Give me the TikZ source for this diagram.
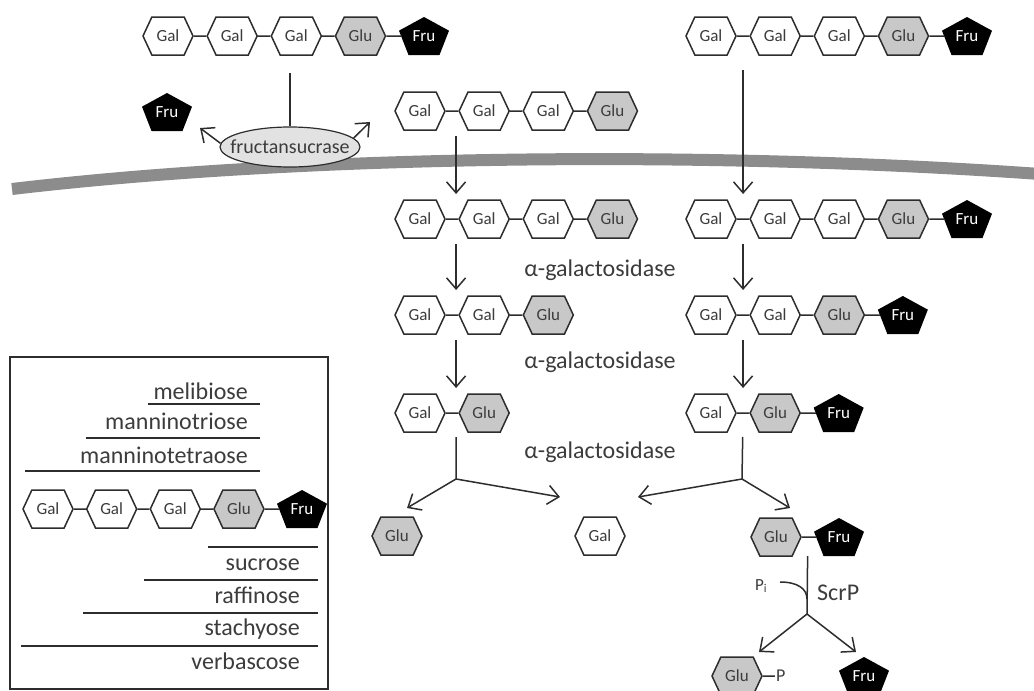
\documentclass[tikz,border=0pt]{standalone}
\usepackage{fontspec}
\setmainfont{Carlito}
\usetikzlibrary{arrows.meta,positioning,shapes.geometric,shapes.symbols,calc}
\definecolor{ink}{RGB}{45,45,45}
\definecolor{txt}{RGB}{60,60,60}
\definecolor{glugray}{RGB}{200,200,200}
\definecolor{enzgray}{RGB}{226,226,226}
\definecolor{memgray}{RGB}{140,140,140}

\tikzset{
  sugar/.style={signal, signal to=east and west, signal pointer angle=130,
    minimum width=50pt, minimum height=38pt, inner sep=0pt, draw=ink,
    line width=1.5pt, text=txt, font=\fontsize{17}{19}\selectfont},
  gal/.style={sugar, fill=white},
  glu/.style={sugar, fill=glugray},
  fru/.style={rectangle, minimum width=50pt, minimum height=38pt, inner sep=0pt,
    text=white, font=\fontsize{17}{19}\selectfont,
    path picture={\fill[black] (path picture bounding box.north)
      -- ($(path picture bounding box.west)!0.28!(path picture bounding box.north west)$)
      -- ($(path picture bounding box.south west)!0.19!(path picture bounding box.south east)$)
      -- ($(path picture bounding box.south east)!0.19!(path picture bounding box.south west)$)
      -- ($(path picture bounding box.east)!0.28!(path picture bounding box.north east)$)
      -- cycle;}},
  link/.style={draw=ink, line width=1.5pt},
  tofru/.style={link, shorten >=-2.5pt},
  arr/.style={draw=ink, line width=1.5pt, -{Straight Barb[length=11pt,width=19pt]}},
  drop/.style={arr, shorten <=25pt, shorten >=25pt},
  enzyme/.style={text=txt, inner sep=0pt, font=\fontsize{24}{26}\selectfont},
  legtext/.style={text=txt, inner sep=0pt, anchor=base east, font=\fontsize{24}{26}\selectfont},
  rule/.style={draw=ink, line width=1.2pt}
}

\begin{document}
\begin{tikzpicture}[x=1pt, y=-1pt]
  \useasboundingbox (0,0) rectangle (1034,691);

  % membrane
  \draw[memgray, line width=12pt] (12,189) .. controls (300,155) and (700,150) .. (1040,174);

  % outside: verbascose and manninotetraose
  \node[gal] (vo1) at (168,36) {Gal};
  \node[gal, right=12.5pt of vo1] (vo2) {Gal};
  \node[gal, right=12.5pt of vo2] (vo3) {Gal};
  \node[glu, right=12.5pt of vo3] (vo4) {Glu};
  \node[fru, right=12.5pt of vo4] (vo5) {Fru};

  \node[gal] (vx1) at (711,36) {Gal};
  \node[gal, right=12.5pt of vx1] (vx2) {Gal};
  \node[gal, right=12.5pt of vx2] (vx3) {Gal};
  \node[glu, right=12.5pt of vx3] (vx4) {Glu};
  \node[fru, right=12.5pt of vx4] (vx5) {Fru};

  \node[gal] (mx1) at (420,111) {Gal};
  \node[gal, right=12.5pt of mx1] (mx2) {Gal};
  \node[gal, right=12.5pt of mx2] (mx3) {Gal};
  \node[glu, right=12.5pt of mx3] (mx4) {Glu};

  \node[fru] (fo) at (167,112) {Fru};

  % fructansucrase
  \node[ellipse, draw=ink, fill=enzgray, line width=1.2pt, minimum width=140pt,
        minimum height=40pt, inner xsep=-11pt, inner ysep=0pt, text=txt,
        font=\fontsize{20}{22}\selectfont] (fs) at (290,147) {fructansucrase};
  \coordinate (cut) at (290,73);
  \coordinate (outL) at (200,128);
  \coordinate (outR) at (370,122);
  \draw[link] (cut) -- (fs);
  \draw[arr] (fs.177) -- (outL);
  \draw[arr] (fs.8) -- (outR);

  % inside the cell
  \node[gal] (mc1) at (420,219) {Gal};
  \node[gal, right=12.5pt of mc1] (mc2) {Gal};
  \node[gal, right=12.5pt of mc2] (mc3) {Gal};
  \node[glu, right=12.5pt of mc3] (mc4) {Glu};

  \node[gal] (vc1) at (711,219) {Gal};
  \node[gal, right=12.5pt of vc1] (vc2) {Gal};
  \node[gal, right=12.5pt of vc2] (vc3) {Gal};
  \node[glu, right=12.5pt of vc3] (vc4) {Glu};
  \node[fru, right=12.5pt of vc4] (vc5) {Fru};

  \node[gal] (tc1) at (420,315) {Gal};
  \node[gal, right=12.5pt of tc1] (tc2) {Gal};
  \node[glu, right=12.5pt of tc2] (tc3) {Glu};

  \node[gal] (sc1) at (711,315) {Gal};
  \node[gal, right=12.5pt of sc1] (sc2) {Gal};
  \node[glu, right=12.5pt of sc2] (sc3) {Glu};
  \node[fru, right=12.5pt of sc3] (sc4) {Fru};

  \node[gal] (bc1) at (420,413) {Gal};
  \node[glu, right=12.5pt of bc1] (bc2) {Glu};

  \node[gal] (rc1) at (711,413) {Gal};
  \node[glu, right=12.5pt of rc1] (rc2) {Glu};
  \node[fru, right=12.5pt of rc2] (rc3) {Fru};

  \node[enzyme] (ag1) at (600,270) {α-galactosidase};
  \node[enzyme] (ag2) at (600,362) {α-galactosidase};
  \node[enzyme] (ag3) at (600,452) {α-galactosidase};

  \node[glu] (glu1) at (397,536) {Glu};
  \node[gal] (gal1) at (600,536) {Gal};
  \node[glu] (su1) at (776,537) {Glu};
  \node[fru, right=12pt of su1] (su2) {Fru};

  % sucrose phosphorylase
  \node[glu] (gp) at (737,676) {Glu};
  \node[text=txt, inner sep=1pt, font=\fontsize{18}{20}\selectfont,
        right=12pt of gp] (pp) {P};
  \node[fru] (frf) at (864,676) {Fru};
  \node[text=txt, inner sep=0pt, font=\fontsize{17}{19}\selectfont] (pi) at (761,586) {P\textsubscript{i}};
  \node[enzyme, anchor=west] (scrp) at (817,593) {ScrP};

  % sugar links
  \foreach \a/\b in {vo1/vo2, vo2/vo3, vo3/vo4, vx1/vx2, vx2/vx3, vx3/vx4,
                     mx1/mx2, mx2/mx3, mx3/mx4, mc1/mc2, mc2/mc3, mc3/mc4,
                     vc1/vc2, vc2/vc3, vc3/vc4, tc1/tc2, tc2/tc3,
                     sc1/sc2, sc2/sc3, bc1/bc2, rc1/rc2, gp/pp}
    \draw[link] (\a) -- (\b);
  \foreach \a/\b in {vo4/vo5, vx4/vx5, vc4/vc5, sc3/sc4, rc2/rc3, su1/su2}
    \draw[tofru] (\a) -- (\b);

  % uptake and hydrolysis
  \draw[drop] ($(mx1.east)!.5!(mx2.west)+(4,0)$) -- ($(mc1.east)!.5!(mc2.west)+(4,0)$);
  \draw[drop] ($(mc1.east)!.5!(mc2.west)+(4,0)$) -- ($(tc1.east)!.5!(tc2.west)+(4,0)$);
  \draw[drop] ($(tc1.east)!.5!(tc2.west)+(4,0)$) -- ($(bc1.east)!.5!(bc2.west)+(4,0)$);
  \draw[drop, shorten <=34pt] ($(vx1.east)!.5!(vx2.west)$) -- ($(vc1.east)!.5!(vc2.west)$);
  \draw[drop] ($(vc1.east)!.5!(vc2.west)$) -- ($(sc1.east)!.5!(sc2.west)$);
  \draw[drop] ($(sc1.east)!.5!(sc2.west)$) -- ($(rc1.east)!.5!(rc2.west)$);

  \coordinate (jl) at (456,479);
  \coordinate (tipL1) at (407,508);
  \coordinate (tipL2) at (560,497);
  \draw[link, shorten <=24pt] ($(bc1.east)!.5!(bc2.west)+(4,0)$) -- (jl);
  \draw[arr] (jl) -- (tipL1);
  \draw[arr] (jl) -- (tipL2);

  \coordinate (jr) at (742,479);
  \coordinate (tipR1) at (638,497);
  \coordinate (tipR2) at (790,508);
  \draw[link, shorten <=24pt] ($(rc1.east)!.5!(rc2.west)$) -- (jr);
  \draw[arr] (jr) -- (tipR1);
  \draw[arr] (jr) -- (tipR2);

  \coordinate (js) at (807,614);
  \coordinate (tipS1) at (759,652);
  \coordinate (tipS2) at (856,652);
  \coordinate (pin) at (780,582);
  \draw[link, shorten <=19pt] ($(su1.east)!.5!(su2.west)$) -- (js);
  \draw[link] (pin) .. controls (798,582) and (807,589) .. (807,599);
  \draw[arr] (js) -- (tipS1);
  \draw[arr] (js) -- (tipS2);

  % legend
  \draw[ink, line width=1.3pt] (10,357) rectangle (328,689);
  \node[legtext] (lmel) at (248,399) {melibiose};
  \node[legtext] (ltri) at (248,429) {manninotriose};
  \node[legtext] (ltet) at (248,463) {manninotetraose};
  \draw[rule] (148,404) -- (260,404);
  \draw[rule] (86,438) -- (260,438);
  \draw[rule] (25,471) -- (260,471);

  \node[gal] (leg1) at (48,509) {Gal};
  \node[gal, right=12pt of leg1] (leg2) {Gal};
  \node[gal, right=12pt of leg2] (leg3) {Gal};
  \node[glu, right=12pt of leg3] (leg4) {Glu};
  \node[fru, right=12pt of leg4] (leg5) {Fru};
  \foreach \a/\b in {leg1/leg2, leg2/leg3, leg3/leg4}
    \draw[link] (\a) -- (\b);
  \draw[tofru] (leg4) -- (leg5);

  \draw[rule] (208,547) -- (318,547);
  \draw[rule] (144,580) -- (318,580);
  \draw[rule] (83,613) -- (318,613);
  \draw[rule] (21,646) -- (318,646);
  \node[legtext] (lsuc) at (300,570) {sucrose};
  \node[legtext] (lraf) at (300,603) {raffinose};
  \node[legtext] (lsta) at (300,635) {stachyose};
  \node[legtext] (lver) at (300,669) {verbascose};
\end{tikzpicture}
\end{document}
